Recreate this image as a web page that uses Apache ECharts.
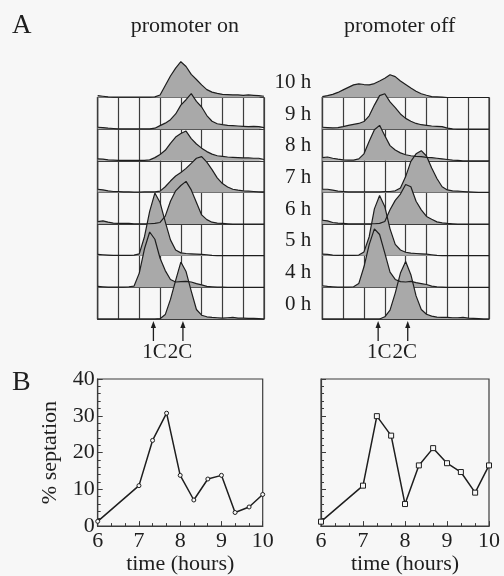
<!DOCTYPE html>
<html><head><meta charset="utf-8">
<script src="https://cdn.jsdelivr.net/npm/echarts@6/dist/echarts.min.js"></script>
<style>html,body{margin:0;padding:0;background:#f7f7f7}#c{width:504px;height:576px}</style>
</head><body><div id="c"></div>
<script>
// DNA content channel (grid units, 8 columns)
const channel = [0,0.25,0.5,0.75,1,1.25,1.5,1.75,2,2.25,2.5,2.75,3,3.25,3.5,3.75,4,4.25,4.5,4.75,5,5.25,5.5,5.75,6,6.25,6.5,6.75,7,7.25,7.5,7.75,8];
const rowLabels = ['0 h','4 h','5 h','6 h','7 h','8 h','9 h','10 h'];
// Histogram heights (100 = one row height), promoter on
const on0h  = [0,0,0,0,0,0,0,0,0,0,0,0,1,14,62,122,180,150,88,30,12,7,5,4,3,4,5,3,3,2,2,1,0];
const on4h  = [3,2,1,1,1,1,2,4,45,122,175,152,92,53,25,17,18,19,17,12,8,3,2,1,1,0,0,0,0,0,0,0,0];
const on5h  = [4,3,2,1,1,1,1,2,6,60,140,198,168,107,50,18,9,7,6,5,4,3,1,0,0,0,0,0,0,0,0,0,0];
const on6h  = [8,10,6,3,2,2,2,1,1,1,1,2,5,25,72,105,122,135,108,68,29,14,6,3,2,1,0,0,0,0,0,0,0];
const on7h  = [10,8,5,3,3,2,2,1,1,2,2,2,4,18,36,52,63,76,92,108,113,96,72,46,28,17,10,7,5,4,3,2,2];
const on8h  = [6,5,3,2,1,1,1,1,1,1,3,10,20,33,55,75,86,94,70,53,40,29,21,16,14,12,11,10,9,9,8,8,4];
const on9h  = [6,5,3,2,1,1,1,1,1,1,1,3,11,19,30,48,76,93,112,88,70,43,25,17,14,12,11,10,9,8,9,8,5];
const on10h = [6,4,2,1,1,1,1,1,1,1,1,2,8,38,68,93,113,98,73,57,40,25,17,13,10,9,8,8,7,8,7,6,4];
// promoter off
const off0h  = [0,0,0,0,0,0,0,0,0,0,0,0,7,28,82,145,182,140,73,30,15,9,6,5,5,4,4,5,3,2,1,0,0];
const off4h  = [5,3,2,1,1,1,2,12,65,135,185,167,108,48,25,18,17,19,15,12,9,4,2,1,0,0,0,0,0,0,0,0,0];
const off5h  = [5,4,2,1,1,1,1,2,12,60,148,190,155,85,36,18,11,8,7,6,5,3,1,0,0,0,0,0,0,0,0,0,0];
const off6h  = [12,10,5,3,2,1,1,1,1,1,1,2,8,45,75,95,125,118,72,45,24,15,7,4,2,1,0,0,0,0,0,0,0];
const off7h  = [10,10,7,4,3,2,2,2,2,2,2,2,3,3,5,14,50,98,122,132,115,77,44,18,8,5,4,3,2,1,0,0,0];
const off8h  = [10,12,8,5,3,2,2,6,22,62,98,112,79,48,34,25,19,16,14,13,11,10,8,6,4,2,1,0,0,0,0,0,0];
const off9h  = [6,5,4,5,8,12,15,18,24,42,76,106,112,86,68,48,34,25,18,14,12,10,9,8,3,1,0,0,0,0,0,0,0];
const off10h = [3,6,10,16,24,32,40,43,41,40,44,52,61,72,66,52,41,30,20,12,7,3,2,1,0,0,0,0,0,0,0,0,0];
// ploidy markers (channel units)
const ploidyLabels = ['1C','2C'];
const ploidyPos = [2.68, 4.1];
// septation
const timeHours = [6,7,7.33,7.67,8,8.33,8.67,9,9.33,9.67,10];
const septOn  = [1.3,11,23.3,30.7,13.8,7.1,12.8,13.8,3.7,5.2,8.6];
const septOff = [1.2,11,29.9,24.6,6,16.5,21.2,17.1,14.7,9.1,16.5];

const onRows = [on0h,on4h,on5h,on6h,on7h,on8h,on9h,on10h];
const offRows = [off0h,off4h,off5h,off6h,off7h,off8h,off9h,off10h];

const FONT = 'Liberation Serif';
const INK = '#1e1e1e';
const GRIDC = '#3c3c3c';
const FILL = '#a9a9a9';
const BG = '#f7f7f7';

const chart = echarts.init(document.getElementById('c'), null, {renderer:'canvas'});

function histAxes(g){
  return {
    x: {type:'value', gridIndex:g, min:0, max:8, interval:1, axisLine:{show:true,lineStyle:{color:GRIDC,width:1.2}},
        axisTick:{show:false}, axisLabel:{show:false}, splitLine:{show:true,lineStyle:{color:GRIDC,width:1.2}}},
    y: {type:'value', gridIndex:g, min:0, max:700, interval:100, axisLine:{show:true,lineStyle:{color:GRIDC,width:1.2}},
        axisTick:{show:false}, axisLabel:{show:false}, splitLine:{show:true,lineStyle:{color:GRIDC,width:1.2}}}
  };
}
const series = [];
[onRows, offRows].forEach((rows, g) => {
  for (let r = rows.length - 1; r >= 0; r--) {
    const base = r * 100;
    series.push({
      type:'line', xAxisIndex:g, yAxisIndex:g, showSymbol:false, clip:false, animation:false,
      data: channel.map((c,i) => [c, base + rows[r][i]]),
      lineStyle:{color:INK, width:1.2},
      areaStyle:{color:FILL, opacity:1, origin:base}
    });
  }
});
function septSeries(g, vals, sym, size){
  return {type:'line', xAxisIndex:g, yAxisIndex:g, data: timeHours.map((t,i)=>[t, vals[i]]),
    symbol:sym, symbolSize:size, showAllSymbol:true, animation:false,
    lineStyle:{color:INK, width:1.5}, itemStyle:{color:BG, borderColor:INK, borderWidth:1}};
}
series.push(septSeries(2, septOn, 'circle', 4));
series.push(septSeries(3, septOff, 'rect', 5));

const ha = histAxes(0), hb = histAxes(1);
function septX(g){
  return {type:'value', gridIndex:g, min:6, max:10, interval:1,
    name: 'time (hours)', nameLocation:'middle', nameGap:24,
    nameTextStyle:{fontFamily:FONT, fontSize:22, color:INK, verticalAlign:'top'},
    axisLine:{show:true, lineStyle:{color:GRIDC, width:1.2}},
    axisTick:{show:true, inside:true, length:5, lineStyle:{color:GRIDC}},
    minorTick:{show:true, splitNumber:3, length:3, lineStyle:{color:GRIDC}},
    axisLabel:{fontFamily:FONT, fontSize:22, color:INK, margin:4},
    splitLine:{show:false}};
}
function septY(g, labels){
  return {type:'value', gridIndex:g, min:0, max:40, interval:10,
    name: labels ? '% septation' : '', nameLocation:'middle', nameGap:36,
    nameTextStyle:{fontFamily:FONT, fontSize:22, color:INK},
    axisLine:{show:true, lineStyle:{color:GRIDC, width:1.2}},
    axisTick:{show:true, inside:true, length:5, lineStyle:{color:GRIDC}},
    minorTick:{show:true, splitNumber:5, length:3, lineStyle:{color:GRIDC}},
    axisLabel:{show:labels, fontFamily:FONT, fontSize:22, color:INK, margin:3},
    splitLine:{show:false}};
}

chart.setOption({
  backgroundColor: BG,
  animation:false,
  grid:[
    {left:97.7, top:97.5, width:166.3, height:221.5, show:true, borderColor:GRIDC, borderWidth:1.2, backgroundColor:'transparent'},
    {left:322.3, top:97.5, width:166.7, height:221.5, show:true, borderColor:GRIDC, borderWidth:1.2, backgroundColor:'transparent'},
    {left:97.7, top:379, width:165, height:150, show:true, borderColor:GRIDC, borderWidth:1.2, backgroundColor:'transparent'},
    {left:321, top:379, width:168, height:149.5, show:true, borderColor:GRIDC, borderWidth:1.2, backgroundColor:'transparent'}
  ],
  xAxis:[ha.x, hb.x, septX(2), septX(3)],
  yAxis:[ha.y, hb.y, septY(2, true), septY(3, false)],
  series: series
});

// annotations placed through the chart's own coordinate conversion
const gfx = [];
const txt = (x, y, s, size, align) => ({type:'text', x:x, y:y, silent:true,
  style:{text:s, fontFamily:FONT, fontSize:size, fill:INK, align:align||'center', verticalAlign:'middle'}});
gfx.push(txt(12, 26, 'A', 27, 'left'));
gfx.push(txt(12, 383, 'B', 28, 'left'));
const p0a = chart.convertToPixel({gridIndex:0}, [0, 0]);
const p0b = chart.convertToPixel({gridIndex:0}, [8, 0]);
const p1a = chart.convertToPixel({gridIndex:1}, [0, 0]);
const p1b = chart.convertToPixel({gridIndex:1}, [8, 0]);
gfx.push(txt((p0a[0]+p0b[0])/2 + 4, 26, 'promoter on', 22));
gfx.push(txt((p1a[0]+p1b[0])/2 - 6, 26, 'promoter off', 22));
const midX = (p0b[0] + p1a[0]) / 2;
rowLabels.forEach((lab, r) => {
  const p = chart.convertToPixel({gridIndex:0}, [8, r*100 + 50]);
  gfx.push(txt(midX + 18, p[1] + 1, lab, 21, 'right'));
});
[0,1].forEach(g => {
  ploidyPos.forEach((v, k) => {
    const p = chart.convertToPixel({gridIndex:g}, [v, 0]);
    const x = p[0], y = p[1];
    gfx.push({type:'line', silent:true, shape:{x1:x, y1:y+6, x2:x, y2:y+22}, style:{stroke:INK, lineWidth:1.3}});
    gfx.push({type:'polygon', silent:true, shape:{points:[[x, y+2],[x-2.6, y+9],[x+2.6, y+9]]}, style:{fill:INK}});
    gfx.push(txt(x + (k===0 ? 1 : -3), y + 33, ploidyLabels[k], 21));
  });
});
chart.setOption({graphic: gfx});
</script></body></html>
